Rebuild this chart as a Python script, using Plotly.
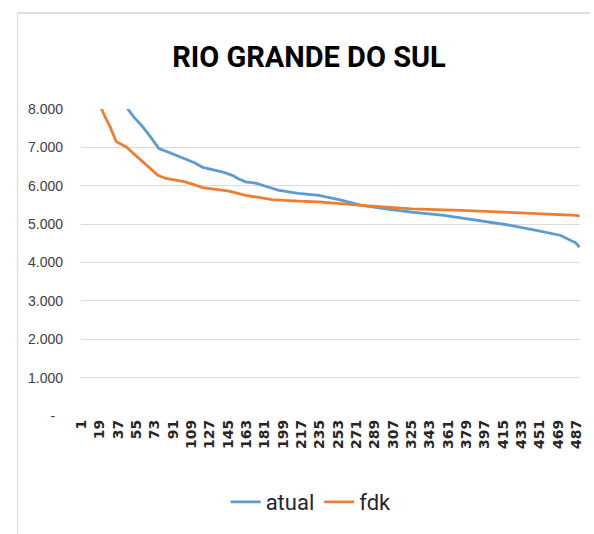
import plotly.graph_objects as go

# ---- data (category index -> value) ----
atual_cat = [1, 20, 35, 46, 52, 61, 68, 74, 77, 84, 90, 103, 112, 120, 133, 141, 149, 155, 162, 172,
             185, 195, 214, 234, 255, 276, 300, 325, 357, 390, 422, 445, 460, 471, 481, 486, 490]
atual_val = [13000, 9900, 8650, 8020, 7800, 7540, 7300, 7060, 6970, 6900, 6840, 6710, 6600, 6480, 6410,
             6350, 6270, 6180, 6100, 6070, 5960, 5880, 5800, 5750, 5630, 5490, 5400, 5310, 5230, 5100,
             4970, 4850, 4770, 4710, 4580, 4520, 4400]

fdk_cat = [1, 12, 20, 24, 29, 35, 40, 45, 55, 65, 76, 84, 103, 120, 146, 162, 188, 214, 234, 276,
           325, 374, 422, 455, 487, 490]
fdk_val = [11000, 9000, 8050, 7800, 7540, 7150, 7080, 7010, 6770, 6540, 6270, 6190, 6100, 5950, 5860,
           5750, 5640, 5600, 5580, 5490, 5400, 5360, 5310, 5270, 5230, 5210]

x_ticks = [1, 19, 37, 55, 73, 91, 109, 127, 145, 163, 181, 199, 217, 235, 253, 271, 289, 307, 325,
           343, 361, 379, 397, 415, 433, 451, 469, 487]
x_tick_labels = [str(v) for v in x_ticks]
y_ticks = [0, 1000, 2000, 3000, 4000, 5000, 6000, 7000, 8000]
y_tick_labels = ["-\u00a0\u00a0", "1.000", "2.000", "3.000", "4.000", "5.000", "6.000", "7.000", "8.000"]
n_categories = 490

fig = go.Figure()
fig.add_trace(go.Scatter(x=atual_cat, y=atual_val, mode="lines", name="atual",
                         line=dict(color="#5B9BD5", width=2.8)))
fig.add_trace(go.Scatter(x=fdk_cat, y=fdk_val, mode="lines", name="fdk",
                         line=dict(color="#ED7D31", width=2.8)))

L, R, T, B = 81, 10, 109, 118
W, H = 594, 534
pw, ph = W - L - R, H - T - B

def px(xp):
    return (xp - L) / pw

def py(yp):
    return (H - B - yp) / ph

fig.update_layout(
    width=W, height=H,
    margin=dict(l=L, r=R, t=T, b=B),
    paper_bgcolor="white", plot_bgcolor="white",
    showlegend=True,
    title=dict(text="<b>RIO GRANDE DO SUL</b>", x=309 / W, xref="container", xanchor="center",
               y=1 - 57 / H, yref="container", yanchor="middle",
               font=dict(family="Roboto", size=29, color="#000000")),
    legend=dict(orientation="h", x=px(313), xanchor="center", y=py(502), yanchor="middle",
                font=dict(family="Roboto", size=22, color="#262626"),
                itemwidth=30, bgcolor="rgba(0,0,0,0)"),
    xaxis=dict(range=[0.5, n_categories + 0.5], tickmode="array", tickvals=x_ticks,
               ticktext=x_tick_labels, tickangle=-90, showgrid=False, zeroline=False,
               showline=False, ticks="",
               tickfont=dict(family="DejaVu Sans", size=14, color="#262626", weight="bold")),
    yaxis=dict(range=[0, 8000], tickmode="array", tickvals=y_ticks, ticktext=y_tick_labels,
               showgrid=True, gridcolor="#d9d9d9", gridwidth=1, zeroline=False, showline=False,
               ticks="", ticklabelstandoff=17,
               tickfont=dict(family="Liberation Sans", size=14, color="#404040")),
    shapes=[
        dict(type="line", xref="paper", yref="paper", x0=px(17), x1=px(W), y0=py(13), y1=py(13),
             line=dict(color="#d4d4d4", width=1.5)),
        dict(type="line", xref="paper", yref="paper", x0=px(17), x1=px(17), y0=py(13), y1=py(H),
             line=dict(color="#e4e4e4", width=1.5)),
    ],
)

fig.write_html("out.html", config={"displayModeBar": False},
               post_script="document.body.style.margin='0';")
